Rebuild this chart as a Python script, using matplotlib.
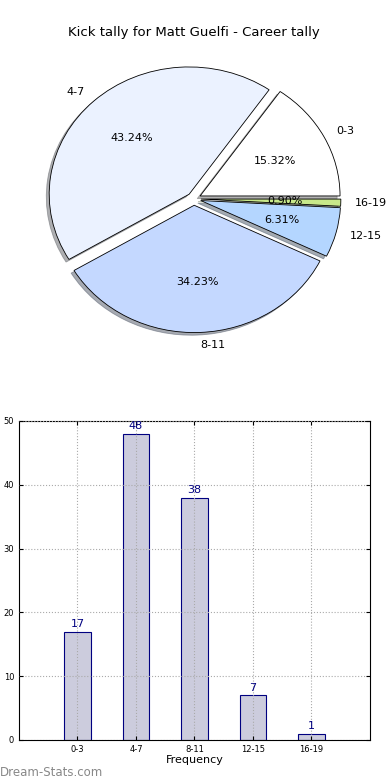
import matplotlib
matplotlib.use('Agg')
import matplotlib.pyplot as plt

# Données
categories = ['0-3', '4-7', '8-11', '12-15', '16-19']
counts = [17, 48, 38, 7, 1]
pie_colors = ['#ffffff', '#ebf2ff', '#c4d8ff', '#b4d6ff', '#c8e88a']
title = 'Kick tally for Matt Guelfi - Career tally'

fig = plt.figure(figsize=(3.9, 7.8), dpi=100)

# Camembert
ax1 = fig.add_axes([0.0487, 0.541, 0.897, 0.408])
wedges, texts, autotexts = ax1.pie(counts, labels=categories, colors=pie_colors,
                                   explode=[0.05] * len(counts), autopct='%1.2f%%',
                                   shadow={'ox': -0.015, 'oy': -0.015, 'shade': 0.6},
                                   startangle=0,
                                   wedgeprops={'edgecolor': 'black', 'linewidth': 0.6},
                                   textprops={'fontsize': 8})
ax1.set_aspect('auto')
ax1.set_xlim(-1.25, 1.25)
ax1.set_ylim(-1.25, 1.25)
ax1.set_title(title, fontsize=9.5, pad=3)

# Histogramme
ax2 = fig.add_axes([0.0487, 0.0513, 0.9, 0.409])
x = range(len(categories))
bars = ax2.bar(x, counts, width=0.45, color='#ccccdd', edgecolor='navy', linewidth=0.8)
for xi, c in zip(x, counts):
    ax2.text(xi, c + 0.4, str(c), ha='center', va='bottom', color='navy', fontsize=8)
ax2.set_xlim(-1, 5)
ax2.set_ylim(0, 50)
ax2.set_xticks(list(x))
ax2.set_xticklabels(categories)
ax2.set_yticks([0, 10, 20, 30, 40, 50])
ax2.tick_params(direction='in', top=True, right=True, labelsize=6, length=3)
ax2.grid(True, color='#aaaaaa', linestyle=':', linewidth=0.8)
ax2.set_axisbelow(False)
ax2.set_xlabel('Frequency', fontsize=8, labelpad=1)

fig.text(0.0, 0.005, 'Dream-Stats.com', color='#888888', fontsize=8.5)

fig.savefig('out.png', dpi=100)
